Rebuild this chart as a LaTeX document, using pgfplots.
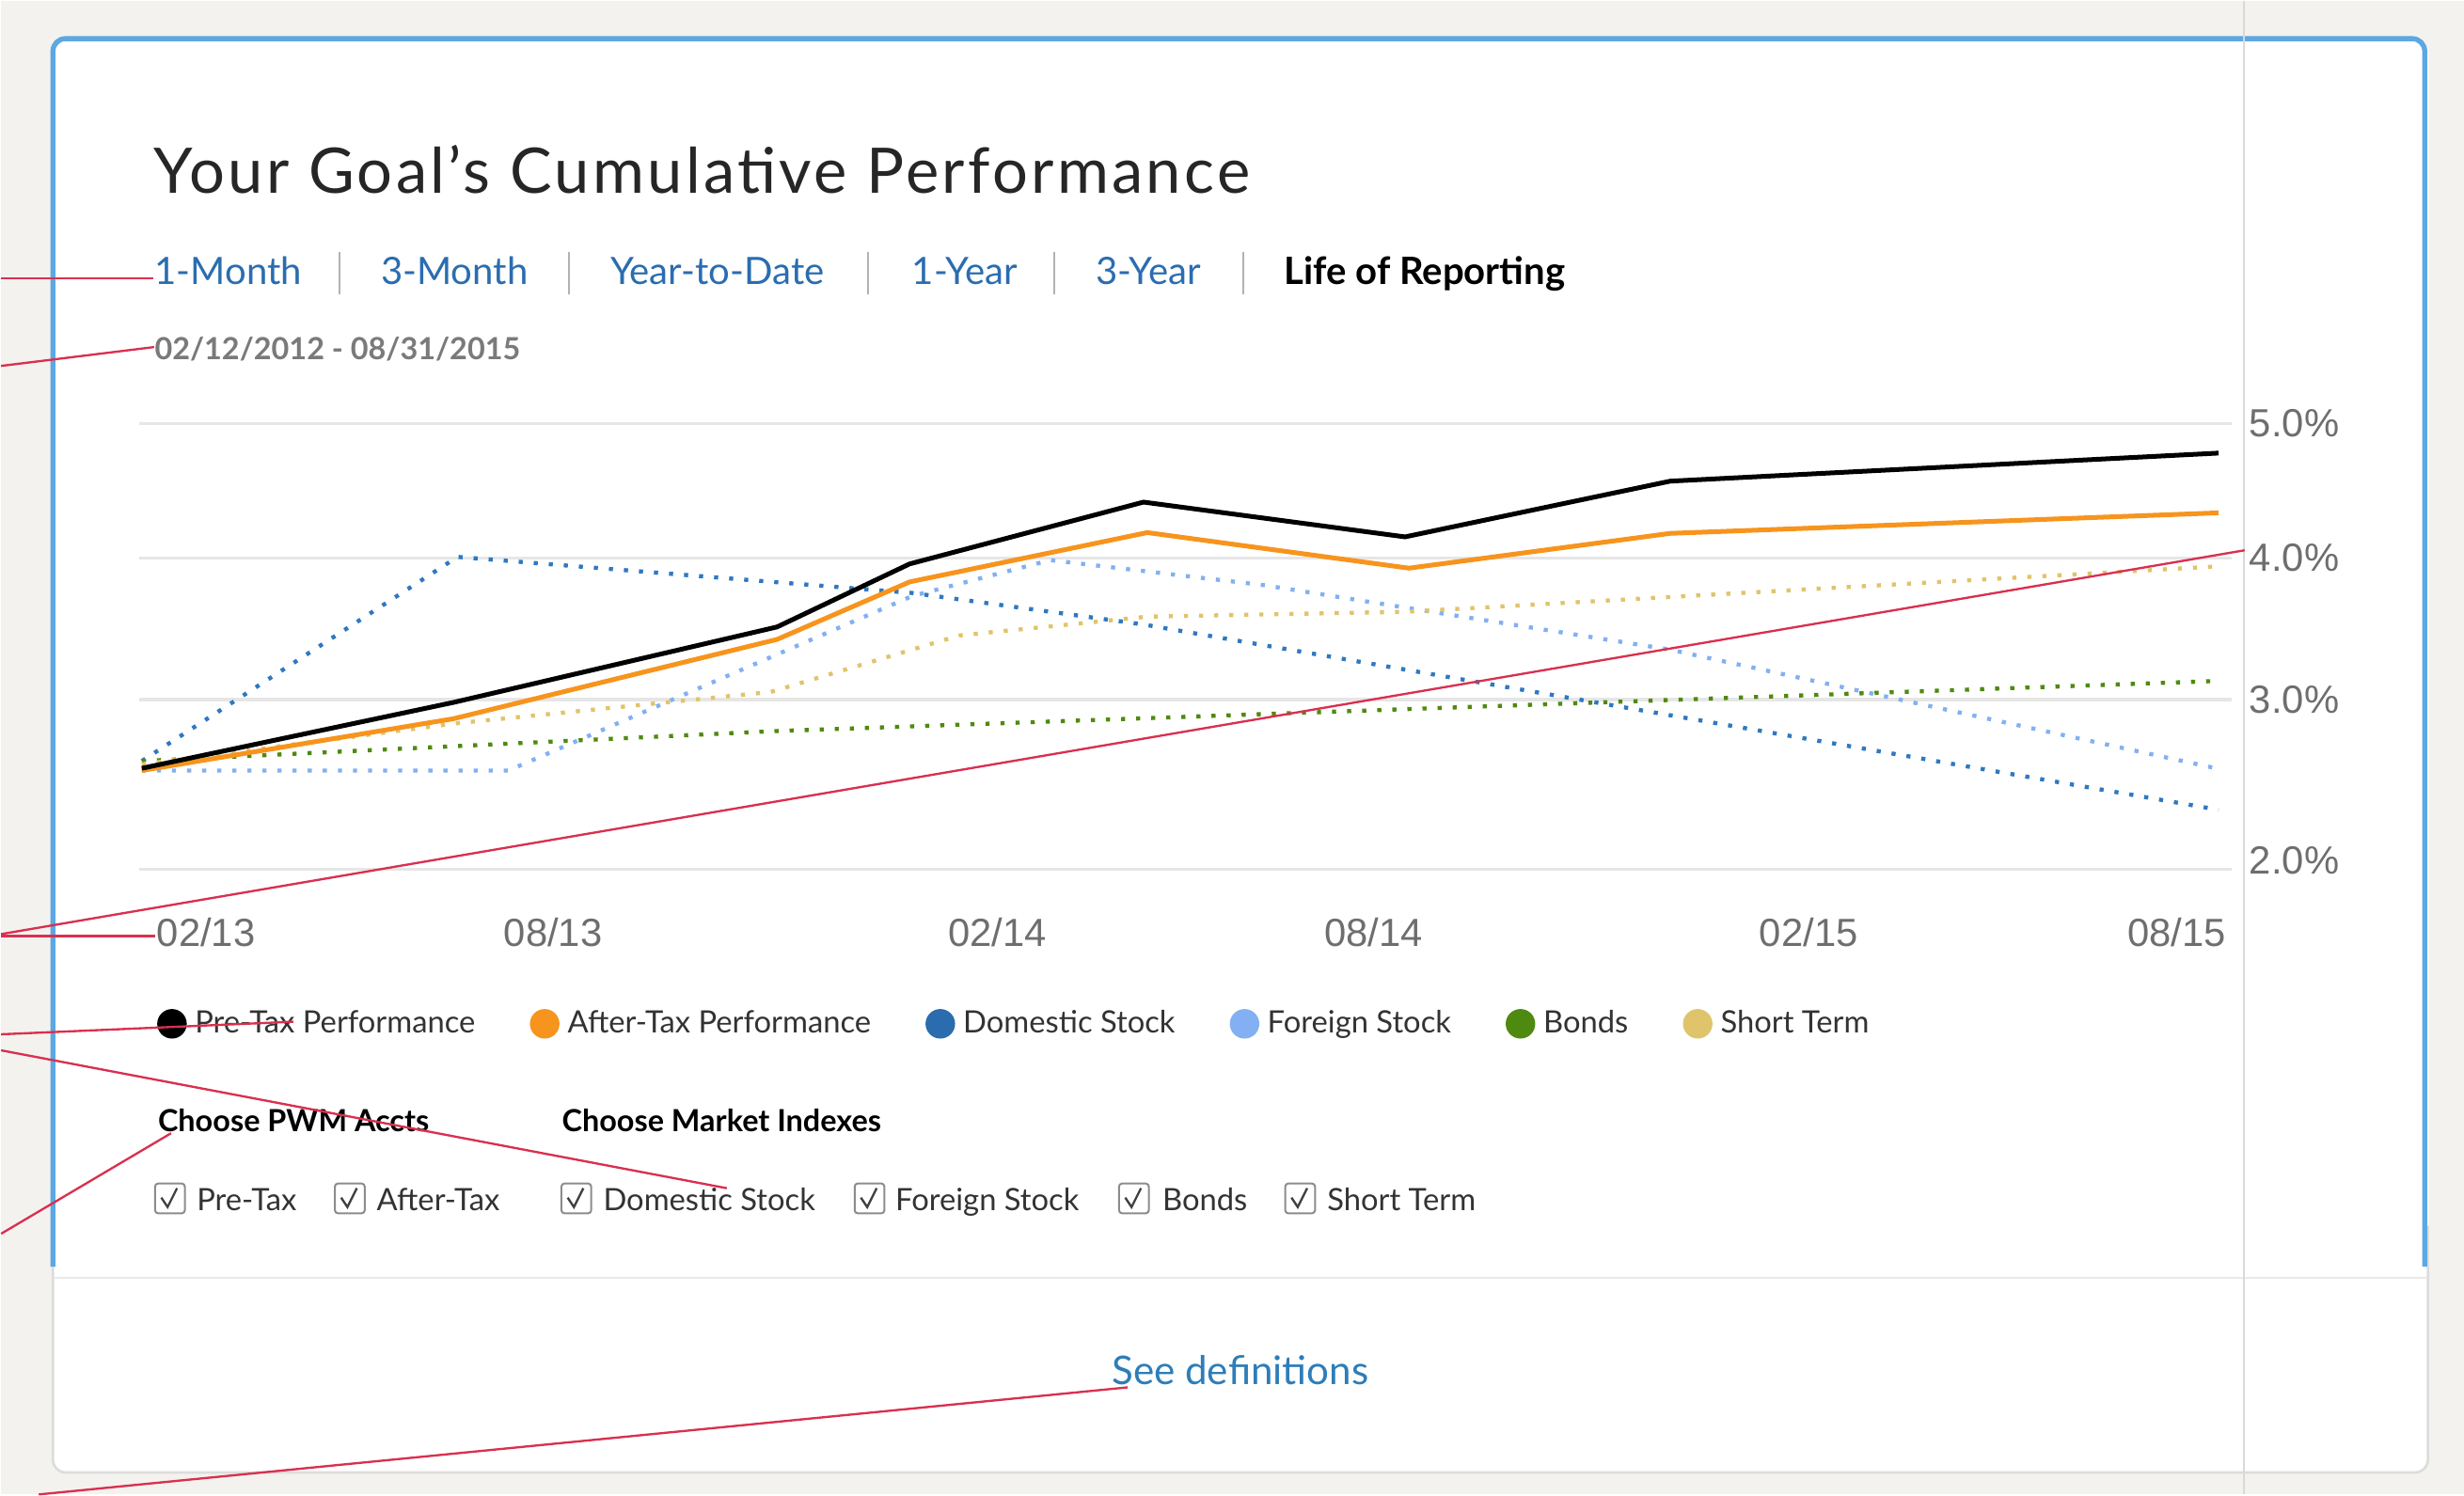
\documentclass[border=0pt]{standalone}
\usepackage{fontspec}
\setmainfont{Lato}
\newfontfamily\tickfont{Liberation Sans}
\usepackage{pgfplots}
\pgfplotsset{compat=1.18}

\definecolor{bgpage}{HTML}{F4F2EF}
\definecolor{cardblue}{HTML}{5BA8E2}
\definecolor{cardline}{HTML}{DCDCDC}
\definecolor{gridgray}{HTML}{E6E6E6}
\definecolor{tickgray}{HTML}{6E6E6E}
\definecolor{navblue}{HTML}{2A6DB0}
\definecolor{linkblue}{HTML}{2D7DB9}
\definecolor{datagray}{HTML}{7A7A7A}
\definecolor{aftertax}{HTML}{F7941D}
\definecolor{domestic}{HTML}{2F78C0}
\definecolor{foreign}{HTML}{82B0F2}
\definecolor{bonds}{HTML}{4F8A10}
\definecolor{shortterm}{HTML}{E0C46C}
\definecolor{annot}{HTML}{D9304F}
\definecolor{boxgray}{HTML}{8C8C8C}

\newcommand\navfont{\fontsize{12}{14}\selectfont}
\newcommand\legfont{\fontsize{9.8}{12}\selectfont}
\newcommand\cbox[3]{%
  \draw[line width=0.6pt, draw=boxgray, rounded corners=1pt] (#1,753) rectangle ++(19,19);
  \draw[line width=0.7pt, black!75] (#1+4,762) -- (#1+8,768) -- (#1+14,756);
  \node[anchor=base west, inner sep=0pt, font=\legfont, text=black!80] at (#2,770) {#3};}

\begin{document}
\begin{tikzpicture}
% page, card and controls, in pixels of the 1568 x 951 screenshot
\begin{scope}[x=0.5pt,y=-0.5pt]
\useasboundingbox (0,0) rectangle (1568,951);
\fill[bgpage] (0,0) rectangle (1568,951);
\fill[white, rounded corners=4pt] (33,24) rectangle (1545,937);
\draw[cardline, line width=0.8pt, rounded corners=4pt] (33,780) -- (33,937) -- (1545,937) -- (1545,780);
\draw[cardline!60, line width=0.6pt] (34,813) -- (1544,813);
\draw[cardblue, line width=1.6pt, rounded corners=4pt] (33,806) -- (33,24) -- (1543,24) -- (1543,806);

\node[anchor=base west, inner sep=0pt, text=black!85, font=\fontsize{20}{24}\selectfont\addfontfeatures{LetterSpace=5}]
  at (97,122.7) {Your Goal’s Cumulative Performance};

\foreach \x/\t in {97.4/1-Month, 241.5/3-Month, 387.5/Year-to-Date, 579.6/1-Year, 696.5/3-Year}
  \node[anchor=base west, inner sep=0pt, text=navblue, font=\navfont] at (\x,180.5) {\t};
\node[anchor=base west, inner sep=0pt, text=black, font=\navfont\bfseries] at (816.5,180.5) {Life of Reporting};
\foreach \x in {215.5, 361.6, 551.7, 670.5, 790.6}
  \draw[black!30, line width=0.6pt] (\x,160) -- (\x,187);

\node[anchor=base west, inner sep=0pt, text=datagray, font=\fontsize{9.7}{12}\selectfont\bfseries]
  at (97.4,228.4) {02/12/2012 - 08/31/2015};

\node[anchor=base west, inner sep=0pt, font=\fontsize{9.7}{12}\selectfont\bfseries] at (99.5,719.9) {Choose PWM Accts};
\node[anchor=base west, inner sep=0pt, font=\fontsize{9.7}{12}\selectfont\bfseries] at (356.7,719.9) {Choose Market Indexes};
\cbox{98}{124.2}{Pre-Tax}
\cbox{212.5}{238.8}{After-Tax}
\cbox{356.7}{383}{Domestic Stock}
\cbox{543.4}{569}{Foreign Stock}
\cbox{711.7}{739}{Bonds}
\cbox{817.5}{843.9}{Short Term}

\node[anchor=base west, inner sep=0pt, text=linkblue, font=\fontsize{12.6}{15}\selectfont] at (706.9,881) {See definitions};
\end{scope}

\begin{axis}[
  at={(44pt,-276.5pt)}, anchor=south west,
  width=666pt, height=141.95pt, scale only axis,
  xmin=88, xmax=1420, ymin=2, ymax=5,
  y coord trafo/.code={\pgfmathparse{(#1<3)*(#1-2)*108.2 + and(#1>=3,#1<4)*(108.2+(#1-3)*90.2) + (#1>=4)*(198.4+(#1-4)*85.5)}},
  axis line style={draw=none}, major tick style={draw=none},
  clip=false,
  ymajorgrids, grid style={gridgray, line width=1pt},
  ytick={2,3,4,5}, yticklabels={\raisebox{6pt}{2.0\%},3.0\%,4.0\%,5.0\%},
  yticklabel pos=right,
  yticklabel style={anchor=west, xshift=2.2pt, text=tickgray, font=\tickfont\fontsize{12.5}{14}\selectfont},
  xtick={130.5,351.4,634.2,873.7,1150.8,1385},
  xticklabels={02/13,08/13,02/14,08/14,02/15,08/15},
  xticklabel style={anchor=north, yshift=-12pt, text=tickgray, font=\tickfont\fontsize{12.5}{14}\selectfont},
  legend image code/.code={\fill[#1] (4.5pt,0pt) circle (4.5pt);},
  legend style={at={(axis description cs:0.00826,-0.3463)}, anchor=west,
    draw=none, fill=none, inner sep=0pt, legend columns=6,
    font=\legfont, text=black!80, nodes={inner sep=0pt},
    /tikz/every odd column/.append style={column sep=2.6pt},
    /tikz/every even column/.append style={column sep=17.4pt}},
  legend cell align=left,
]
\addlegendimage{color=black}\addlegendentry{Pre-Tax Performance}
\addlegendimage{color=aftertax}\addlegendentry{After-Tax Performance}
\addlegendimage{color=domestic!90!black}\addlegendentry{Domestic Stock}
\addlegendimage{color=foreign}\addlegendentry{Foreign Stock}
\addlegendimage{color=bonds}\addlegendentry{Bonds}
\addlegendimage{color=shortterm}\addlegendentry{Short Term}

% market indexes (dotted), drawn below the goal lines
\addplot[forget plot, domestic, line width=1.3pt, dash pattern=on 1.3pt off 3.5pt] coordinates {
  (89.6,2.638) (290.6,4.007) (580,3.752) (727,3.530) (1411.7,2.351)};
\addplot[forget plot, foreign, line width=1.3pt, dash pattern=on 1.3pt off 3.5pt] coordinates {
  (89.6,2.582) (323,2.582) (580,3.730) (668,3.984) (804,3.807) (1062,3.353) (1411.7,2.592)};
\addplot[forget plot, bonds, line width=1.3pt, dash pattern=on 1.3pt off 3.5pt] coordinates {
  (89.6,2.638) (490,2.813) (894,2.943) (1411.7,3.131)};
\addplot[forget plot, shortterm, line width=1.3pt, dash pattern=on 1.3pt off 3.5pt] coordinates {
  (89.6,2.619) (290,2.860) (490,3.053) (610,3.452) (730,3.585) (894,3.619) (1411.7,3.940)};
% goal performance
\addplot[forget plot, aftertax, line width=1.5pt] coordinates {
  (89.6,2.582) (288.1,2.887) (494,3.424) (578.4,3.830) (729.7,4.188) (896.3,3.927) (1062.6,4.182) (1411.7,4.335)};
\addplot[forget plot, black, line width=1.5pt] coordinates {
  (89.6,2.595) (288.1,2.983) (494,3.512) (578.4,3.957) (727.3,4.415) (893.8,4.156) (1062.6,4.571) (1411.7,4.780)};
\end{axis}

% overlay: page guide and red annotation leaders
\begin{scope}[x=0.5pt,y=-0.5pt]
\draw[black!15, line width=0.6pt] (1428,0) -- (1428,951);
\begin{scope}[annot, line width=0.7pt]
\draw (0,176.5) -- (97,176.5);
\draw (0,232.4) -- (97.4,220.4);
\draw (0,594.2) -- (1428.3,349.8);
\draw (0,595.5) -- (98,595.5);
\draw (0,658) -- (186,650);
\draw (0,668.2) -- (462,756);
\draw (0,785) -- (108.2,721);
\draw (24,951) -- (717.3,882.8);
\end{scope}
\end{scope}
\end{tikzpicture}
\end{document}
